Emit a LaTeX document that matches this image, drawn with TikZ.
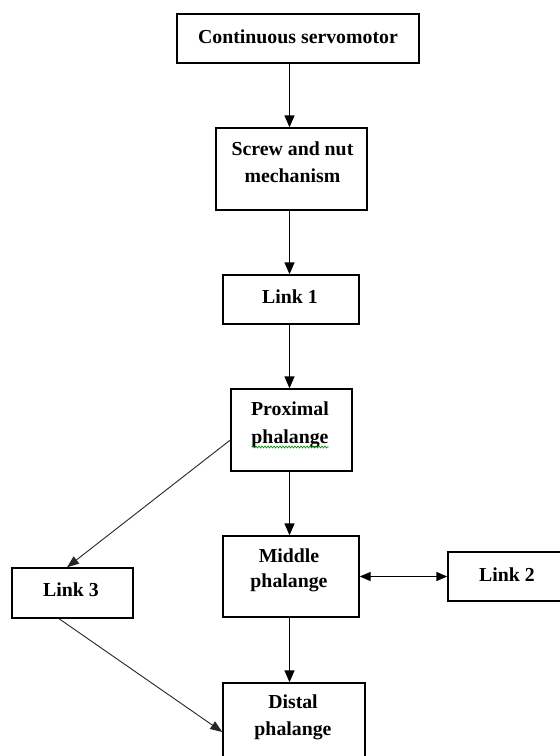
\documentclass[tikz,border=0pt]{standalone}
\usepackage{fontspec}
\setmainfont{Liberation Serif}
\usetikzlibrary{arrows.meta,decorations.pathmorphing,calc}
\begin{document}
\begin{tikzpicture}[x=1pt,y=-1pt,
  box/.style={draw,line width=1.4pt,inner sep=0pt,minimum width=#1},
  txt/.style={anchor=base,inner sep=0pt,font=\fontsize{19.8pt}{27pt}\selectfont\bfseries},
  arr/.style={line width=1.4pt,-{Triangle[length=12pt,width=10pt]}},
  darr/.style={line width=1.4pt,{Triangle[length=11pt,width=9pt]}-{Triangle[length=11pt,width=9pt]}},
  diag/.style={line width=0.9pt,black!85,-{Triangle[length=12pt,width=9pt]}}]
\useasboundingbox (0,0) rectangle (560,756);
\clip (0,0) rectangle (560,756);
\fill[white] (0,0) rectangle (560,756);
\coordinate (axis) at (289.5,0);
% boxes
\node[box=242pt,minimum height=49pt] (b1) at (298,38.5) {};
\node[box=151pt,minimum height=82pt] (b2) at (291.5,169) {};
\node[box=136pt,minimum height=49pt] (b3) at (291,299.5) {};
\node[box=121pt,minimum height=82pt] (b4) at (291.5,430) {};
\node[box=136pt,minimum height=81pt] (b5) at (291,576.5) {};
\node[box=132pt,minimum height=49pt] (b6) at (514,576.5) {};
\node[box=121pt,minimum height=50pt] (b7) at (72.5,593) {};
\node[box=142pt,minimum height=82pt] (b8) at (294,724) {};
% texts
\node[txt] (t1) at (298,43) {Continuous servomotor};
\node[txt] (t2a) at (292.5,155) {Screw and nut};
\node[txt] (t2b) at (292.5,182) {mechanism};
\node[txt] (t3) at (290,303) {Link 1};
\node[txt] (t4a) at (290,415) {Proximal};
\node[txt] (t4b) at (290,443) {phalange};
\node[txt] (t5a) at (289,562) {Middle};
\node[txt] (t5b) at (289,587) {phalange};
\node[txt] (t6) at (507,581) {Link 2};
\node[txt] (t7) at (71,596) {Link 3};
\node[txt] (t8a) at (293,708) {Distal};
\node[txt] (t8b) at (293,735) {phalange};
% spelling underline
\draw[green!55!black,line width=0.6pt,decorate,decoration={zigzag,segment length=3pt,amplitude=1pt}]
  ($(t4b.base west)+(1,4)$) -- ($(t4b.base east)+(0,4)$);
% connectors
\draw[arr] (b1.south -| axis) -- (b2.north -| axis);
\draw[arr] (b2.south -| axis) -- (b3.north -| axis);
\draw[arr] (b3.south -| axis) -- (b4.north -| axis);
\draw[arr] (b4.south -| axis) -- (b5.north -| axis);
\draw[arr] (b5.south -| axis) -- (b8.north -| axis);
\draw[darr] (b5.east) -- (b6.west);
\draw[diag] ([yshift=-10pt]b4.west) -- ([xshift=-5.5pt]b7.north);
\draw[diag] ([xshift=-13.5pt]b7.south) -- ([yshift=-8pt]b8.west);
\end{tikzpicture}
\end{document}
